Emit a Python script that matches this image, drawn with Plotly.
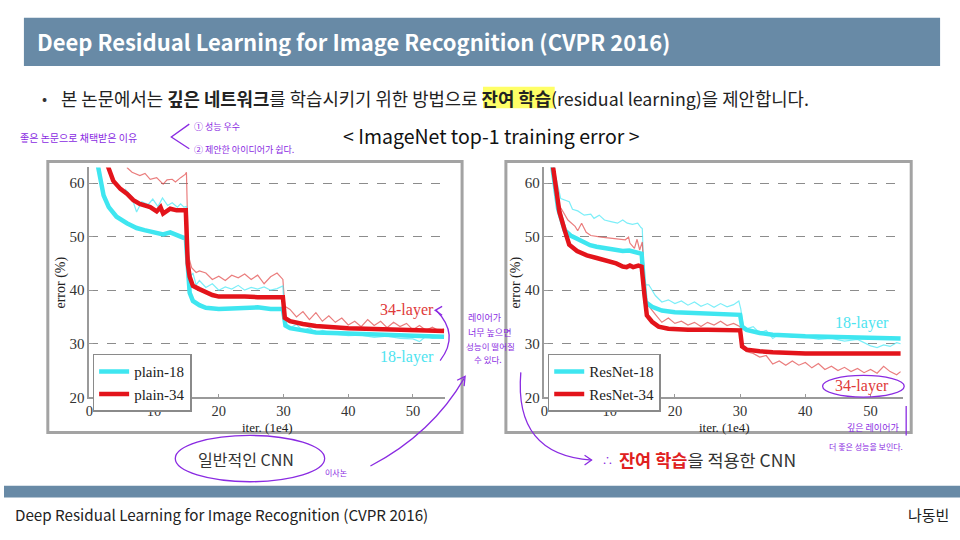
import plotly.graph_objects as go

# ---------------- DATA ----------------
# Left chart: plain networks (thick = validation, thin = training)
plain18_x = [1.2, 1.4, 2.2, 3.0, 4.2, 5.8, 7.3, 8.5, 9.4, 10.5, 11.4, 12.5, 13.5, 14.5, 14.9, 15.2, 15.5, 16, 17, 18, 20, 22, 24, 26, 28, 29.9, 30.3, 31, 33, 35, 40, 45, 50, 54.8]
plain18_y = [64.0, 62.6, 57.7, 55.5, 53.7, 52.5, 51.6, 51.2, 50.9, 50.6, 50.4, 50.8, 50.2, 49.8, 49.8, 44.0, 39.5, 38.0, 37.2, 36.7, 36.5, 36.6, 36.6, 36.8, 36.5, 36.5, 33.4, 32.9, 32.5, 32.1, 31.9, 31.6, 31.5, 31.3]

plain34_x = [2.6, 3.7, 4.8, 5.8, 6.8, 7.8, 9.4, 10.4, 11.0, 11.4, 12.5, 13.5, 14.9, 15.2, 15.5, 16, 17, 18, 19, 20, 22, 24, 26, 28, 29.9, 30.2, 31, 33, 35, 40, 45, 50, 54.8]
plain34_y = [64.0, 60.4, 58.9, 58.0, 56.8, 56.1, 55.5, 54.7, 55.5, 54.3, 55.2, 54.9, 54.9, 45.0, 42.5, 40.8, 40.2, 39.6, 39.1, 38.8, 38.9, 38.8, 38.7, 38.8, 38.7, 34.8, 34.2, 33.7, 33.3, 32.9, 32.8, 32.6, 32.4]

plain18_train_x = [5.5, 6.5, 7.3, 8.1, 9.1, 9.8, 10.6, 11.3, 12.1, 12.8, 13.6, 14.1, 14.6, 15.0, 15.3, 16.0, 16.5, 17, 18, 19, 20, 21, 22, 23, 24, 25, 26, 27, 28, 29, 29.9, 30.2, 31, 32, 33, 34, 35, 36, 38, 40, 42, 44, 46, 48, 50, 51, 52, 53, 54.8]
plain18_train_y = [58.9, 57.5, 54.6, 56.5, 56.0, 57.0, 55.6, 57.2, 55.8, 56.3, 55.5, 56.1, 55.5, 55.6, 42.0, 43.2, 41.0, 41.8, 40.5, 41.2, 40.0, 40.6, 40.2, 40.9, 40.0, 40.5, 40.2, 40.6, 40.0, 40.3, 40.8, 33.8, 33.0, 33.6, 32.4, 33.0, 32.0, 32.5, 31.8, 31.5, 31.6, 31.2, 31.4, 31.0, 30.9, 30.4, 31.4, 31.0, 31.2]

plain34_train_x = [5.8, 6.6, 7.8, 8.6, 9.4, 10.4, 11.4, 12.0, 12.8, 13.3, 14.1, 14.8, 15.0, 15.3, 15.8, 16.5, 17, 18, 19, 20, 21, 22, 23, 24, 25, 26, 27, 28, 29, 29.9, 30.2, 31, 32, 33, 34, 35, 36, 37, 38, 39, 40, 41, 42, 43, 44, 45, 46, 47, 48, 49, 50, 51, 52, 53, 54, 54.8]
plain34_train_y = [62.9, 62.0, 61.4, 61.8, 60.7, 61.0, 59.8, 60.6, 60.7, 60.2, 61.0, 61.6, 62.0, 46.5, 44.2, 43.3, 43.6, 43.2, 42.0, 42.6, 41.8, 42.8, 42.3, 43.0, 42.0, 42.8, 41.2, 42.5, 43.2, 42.0, 37.0, 36.4, 35.0, 36.0, 34.5, 35.8, 34.2, 35.2, 34.0, 34.8, 33.5, 34.2, 33.2, 34.5, 33.4, 34.2, 33.0, 34.0, 33.2, 33.8, 32.6, 33.4, 32.5, 33.1, 32.4, 32.8]

# Right chart: residual networks
res18_x = [1.1, 2.1, 3.1, 4.0, 5.0, 6.0, 7.0, 8.0, 9.0, 10.0, 11.0, 12.0, 13.0, 14.0, 14.9, 15.2, 15.5, 16.5, 18, 20, 22, 25, 28, 30, 30.3, 31, 33, 35, 40, 45, 50, 54.6]
res18_y = [64.0, 55.2, 51.2, 50.2, 49.6, 48.9, 48.4, 48.1, 47.9, 47.7, 47.5, 47.3, 47.4, 47.0, 46.8, 42.0, 37.8, 36.9, 36.2, 35.9, 35.8, 35.6, 35.5, 35.4, 33.2, 32.6, 32.0, 31.7, 31.4, 31.2, 31.2, 31.0]

res34_x = [1.2, 1.8, 2.3, 3.1, 3.8, 5.0, 6.5, 8.0, 9.5, 11.0, 12.0, 12.6, 13.1, 13.6, 14.4, 14.9, 15.3, 15.7, 16.5, 17.5, 19, 20, 22, 25, 28, 30, 30.3, 31, 33, 35, 40, 45, 50, 54.6]
res34_y = [64.0, 58.5, 54.6, 51.2, 48.5, 47.3, 46.5, 46.0, 45.5, 45.0, 44.4, 44.3, 44.6, 44.3, 44.6, 44.4, 39.5, 35.3, 34.1, 33.2, 32.8, 32.7, 32.6, 32.6, 32.6, 32.5, 29.5, 28.9, 28.6, 28.4, 28.2, 28.1, 28.2, 28.2]

res18_train_x = [1.2, 2.5, 3.8, 4.3, 5.1, 6.1, 7.1, 7.6, 8.4, 9.2, 10.2, 11.2, 12.0, 12.7, 13.5, 14.3, 14.8, 15.0, 15.3, 16, 17, 18, 19, 20, 21, 22, 23, 24, 25, 26, 27, 28, 29, 29.8, 30.1, 30.5, 31, 32, 33, 34, 35, 36, 37, 38, 40, 42, 44, 46, 48, 50, 51, 52, 53, 54, 54.6]
res18_train_y = [64.0, 57.1, 56.5, 55.1, 54.8, 54.0, 54.2, 53.4, 54.0, 53.1, 52.8, 52.5, 53.1, 52.5, 52.3, 52.5, 51.7, 51.5, 41.0, 41.0, 39.0, 37.8, 38.2, 37.5, 38.0, 37.2, 37.8, 37.0, 37.5, 36.8, 37.5, 36.9, 37.3, 38.0, 36.5, 33.0, 32.8, 33.2, 32.0, 32.5, 31.0, 31.8, 31.5, 31.2, 31.3, 30.8, 31.0, 30.5, 30.8, 29.6, 29.3, 29.8, 29.5, 30.2, 30.0]

res34_train_x = [1.3, 2.3, 3.6, 4.7, 5.1, 5.7, 6.4, 7.1, 8.7, 10.6, 12.4, 12.9, 13.1, 13.8, 14.2, 14.6, 15.0, 15.5, 16, 17, 18, 19, 20, 21, 22, 23, 24, 25, 26, 27, 28, 29, 30, 30.5, 31, 32, 33, 34, 35, 36, 37, 38, 39, 40, 41, 42, 43, 44, 45, 46, 47, 48, 49, 50, 51, 52, 53, 54, 54.6]
res34_train_y = [64.0, 55.8, 53.1, 51.9, 51.1, 52.5, 50.8, 50.2, 49.9, 49.6, 49.4, 49.9, 48.8, 47.8, 49.5, 47.5, 49.0, 38.5, 37.0, 35.5, 34.0, 34.8, 33.8, 34.2, 33.5, 34.0, 33.2, 34.0, 33.5, 34.2, 33.4, 33.8, 33.2, 29.0, 28.5, 28.2, 27.5, 27.8, 26.2, 26.8, 26.0, 26.8, 26.0, 26.5, 25.5, 26.3, 25.2, 25.8, 25.0, 25.6, 24.8, 25.4, 24.6, 25.2, 24.5, 25.8, 24.8, 24.2, 24.8]

x_ticks = [0, 10, 20, 30, 40, 50]
y_ticks = [20, 30, 40, 50, 60]
left_names = ["plain-18", "plain-34"]
right_names = ["ResNet-18", "ResNet-34"]

# ---------------- STYLE ----------------
W, H = 960, 540
CYAN = "#3fe6f0"
RED = "#e3141b"
CYAN_T = "rgba(80,232,245,0.75)"
RED_T = "rgba(225,70,70,0.7)"
SERIF = "Liberation Serif"
SANS = "Noto Sans CJK KR"
PURPLE = "#8a2be2"
BAR = "#688aa6"


def X(p):
    return p / W


def Y(p):
    return 1 - p / H


def path(pts):
    s = "M {:.4f} {:.4f}".format(X(pts[0][0]), Y(pts[0][1]))
    for a, b in pts[1:]:
        s += " L {:.4f} {:.4f}".format(X(a), Y(b))
    return s


def qpath(p0, c, p1):
    return "M {:.4f} {:.4f} Q {:.4f} {:.4f} {:.4f} {:.4f}".format(
        X(p0[0]), Y(p0[1]), X(c[0]), Y(c[1]), X(p1[0]), Y(p1[1]))


fig = go.Figure()

# thin (training) curves
fig.add_trace(go.Scatter(x=plain34_train_x, y=plain34_train_y, mode="lines", line=dict(color=RED_T, width=1.2), showlegend=False, xaxis="x", yaxis="y"))
fig.add_trace(go.Scatter(x=plain18_train_x, y=plain18_train_y, mode="lines", line=dict(color=CYAN_T, width=1.2), showlegend=False, xaxis="x", yaxis="y"))
fig.add_trace(go.Scatter(x=res18_train_x, y=res18_train_y, mode="lines", line=dict(color=CYAN_T, width=1.2), showlegend=False, xaxis="x2", yaxis="y2"))
fig.add_trace(go.Scatter(x=res34_train_x, y=res34_train_y, mode="lines", line=dict(color=RED_T, width=1.2), showlegend=False, xaxis="x2", yaxis="y2"))

# thick curves
fig.add_trace(go.Scatter(x=plain18_x, y=plain18_y, mode="lines", name=left_names[0], line=dict(color=CYAN, width=4.5), xaxis="x", yaxis="y", legend="legend"))
fig.add_trace(go.Scatter(x=plain34_x, y=plain34_y, mode="lines", name=left_names[1], line=dict(color=RED, width=4.5), xaxis="x", yaxis="y", legend="legend"))
fig.add_trace(go.Scatter(x=res18_x, y=res18_y, mode="lines", name=right_names[0], line=dict(color=CYAN, width=4.5), xaxis="x2", yaxis="y2", legend="legend2"))
fig.add_trace(go.Scatter(x=res34_x, y=res34_y, mode="lines", name=right_names[1], line=dict(color=RED, width=4.5), xaxis="x2", yaxis="y2", legend="legend2"))

xax = dict(range=[0, 55], tickvals=x_ticks, showline=True, linecolor="#9a9a9a", linewidth=1.5,
           ticks="inside", ticklen=4, tickcolor="#9a9a9a", showgrid=False, zeroline=False,
           tickfont=dict(family=SERIF, size=14.5, color="#333"), fixedrange=True)
yax = dict(range=[20, 62.9], tickvals=y_ticks, showline=True, linecolor="#9a9a9a", linewidth=1.5,
           ticks="inside", ticklen=4, tickcolor="#9a9a9a", showgrid=True, gridcolor="#8c8c8c",
           griddash="dash", gridwidth=1.3, zeroline=False,
           tickfont=dict(family=SERIF, size=15, color="#333"), fixedrange=True)

ydom = [Y(403.3), Y(170)]

legend_common = dict(bgcolor="white", bordercolor="#8a8a8a", borderwidth=1.5,
                     font=dict(family=SERIF, size=15, color="#222"), xanchor="left", yanchor="top",
                     itemwidth=30, tracegroupgap=0)

shapes = []
# header bar
shapes.append(dict(type="rect", xref="paper", yref="paper", x0=X(20), x1=X(940), y0=Y(67), y1=Y(18), fillcolor=BAR, line=dict(width=0), layer="below"))
# footer bar
shapes.append(dict(type="rect", xref="paper", yref="paper", x0=0, x1=1, y0=Y(505), y1=Y(493), fillcolor=BAR, line=dict(width=0), layer="below"))
# yellow highlight
shapes.append(dict(type="rect", xref="paper", yref="paper", x0=X(481), x1=X(553), y0=Y(110), y1=Y(88), fillcolor="#ffff66", line=dict(width=0), layer="below"))
# chart frames
shapes.append(dict(type="rect", xref="paper", yref="paper", x0=X(44), x1=X(460), y0=Y(439), y1=Y(164), line=dict(color="#a3a3a3", width=3), fillcolor="rgba(0,0,0,0)", layer="above"))
shapes.append(dict(type="rect", xref="paper", yref="paper", x0=X(504), x1=X(911), y0=Y(439), y1=Y(164), line=dict(color="#a3a3a3", width=3), fillcolor="rgba(0,0,0,0)", layer="above"))

pl = dict(color=PURPLE, width=1.3)
# handwriting bracket near top
shapes.append(dict(type="path", xref="paper", yref="paper", path=path([(186, 126), (168, 139), (186, 151)]), line=pl))
# arrow left chart 18 -> 34
shapes.append(dict(type="path", xref="paper", yref="paper", path=qpath((438, 366), (458, 340), (434, 315)), line=pl))
shapes.append(dict(type="path", xref="paper", yref="paper", path=path([(440, 311), (433, 315), (440, 320)]), line=pl))
# long arrow from bottom to right side of left chart
shapes.append(dict(type="path", xref="paper", yref="paper", path=qpath((368, 473), (430, 440), (462, 384)), line=pl))
shapes.append(dict(type="path", xref="paper", yref="paper", path=path([(455, 386), (463, 382), (462, 392)]), line=pl))
# ellipse around 일반적인 CNN
shapes.append(dict(type="circle", xref="paper", yref="paper", x0=X(172), x1=X(322), y0=Y(489), y1=Y(442), line=pl))
# arrow from right chart down to bottom text
shapes.append(dict(type="path", xref="paper", yref="paper", path=qpath((519, 378), (512, 462), (590, 467)), line=pl))
shapes.append(dict(type="path", xref="paper", yref="paper", path=path([(583, 462), (590, 467), (583, 472)]), line=pl))
# ellipse around right 34-layer
shapes.append(dict(type="circle", xref="paper", yref="paper", x0=X(822), x1=X(904), y0=Y(403), y1=Y(381), line=pl))
# small line right bottom
shapes.append(dict(type="path", xref="paper", yref="paper", path=path([(906, 412), (906, 442)]), line=pl))

ann = []


def T(x, y, text, size, color="#222", xa="left", family=SANS, ya="middle", angle=0):
    ann.append(dict(x=X(x), y=Y(y), xref="paper", yref="paper", text=text, showarrow=False,
                    xanchor=xa, yanchor=ya, textangle=angle,
                    font=dict(family=family, size=size, color=color)))


T(31, 42, "<b>Deep Residual Learning for Image Recognition (CVPR 2016)</b>", 22, "white")
T(36, 99, "•", 15, "#333")
T(55, 99, "본 논문에서는 <b>깊은 네트워크</b>를 학습시키기 위한 방법으로 <b>잔여 학습</b>(residual learning)을 제안합니다.", 17.8, "#222")
T(338, 138, "&lt; ImageNet top-1 training error &gt;", 19.5, "#111")
T(243, 466, "일반적인 CNN", 16, "#333", xa="center")
T(616, 466, "<b><span style='color:#e02020'>잔여 학습</span></b>을 적용한 CNN", 17.5, "#333")
T(598, 467, "∴", 11, PURPLE)
T(9, 522, "Deep Residual Learning for Image Recognition (CVPR 2016)", 15.2, "#222")
T(951, 522, "나동빈", 15, "#222", xa="right")

# chart labels
T(57, 287, "error (%)", 14, "#222", xa="center", family=SERIF, angle=-90)
T(265, 434, "iter. (1e4)", 13, "#222", xa="center", family=SERIF)
T(514, 287, "error (%)", 14, "#222", xa="center", family=SERIF, angle=-90)
T(724, 434, "iter. (1e4)", 13, "#222", xa="center", family=SERIF)
T(405, 315, "34-layer", 16, "#e03a3a", xa="center", family=SERIF)
T(405, 362, "18-layer", 16, "#4ee4f0", xa="center", family=SERIF)
T(862, 328, "18-layer", 16, "#4ee4f0", xa="center", family=SERIF)
T(862, 392, "34-layer", 16, "#e03a3a", xa="center", family=SERIF)

# handwritten notes (purple)
T(14, 140, "좋은 논문으로 채택받은 이유", 10, PURPLE)
T(189, 128, "① 성능 우수", 9, PURPLE)
T(189, 152, "② 제안한 아이디어가 쉽다.", 9, PURPLE)
T(464, 322, "레이어가", 9, PURPLE)
T(464, 337, "너무 높으면", 9, PURPLE)
T(462, 351, "성능이 떨어질", 8.5, PURPLE)
T(470, 364, "수 있다.", 8.5, PURPLE)
T(320, 480, "이사논", 8, PURPLE)
T(845, 434, "깊은 레이어가", 9, PURPLE)
T(826, 453, "더 좋은 성능을 보인다.", 8, PURPLE)

fig.update_layout(
    width=W, height=H, autosize=False,
    margin=dict(l=0, r=0, t=0, b=0),
    paper_bgcolor="white", plot_bgcolor="white",
    xaxis=dict(xax, domain=[X(85.7), X(85.7 + 55 * 6.5)], anchor="y"),
    yaxis=dict(yax, domain=ydom, anchor="x"),
    xaxis2=dict(xax, domain=[X(542.7), X(542.7 + 55 * 6.55)], anchor="y2"),
    yaxis2=dict(yax, domain=ydom, anchor="x2"),
    legend=dict(legend_common, x=X(89), y=Y(359)),
    legend2=dict(legend_common, x=X(546), y=Y(359)),
    shapes=shapes,
    annotations=ann,
    showlegend=True,
)

fig.write_html("out.html", config={"displayModeBar": False},
               post_script="document.body.style.margin='0';document.body.style.overflow='hidden';")
